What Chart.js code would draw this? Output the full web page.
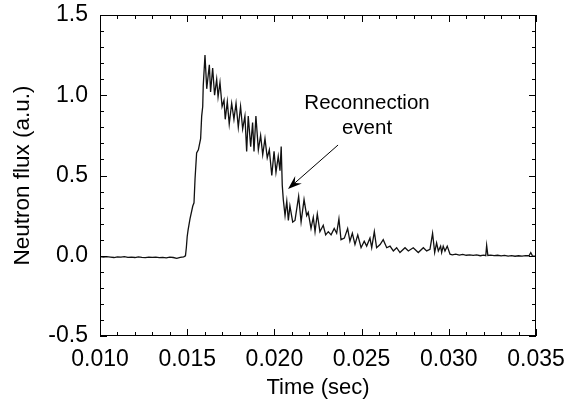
<!DOCTYPE html>
<html>
<head>
<meta charset="utf-8">
<script src="https://cdn.jsdelivr.net/npm/chart.js@4.4.0/dist/chart.umd.min.js"></script>
<style>
  html, body { margin: 0; padding: 0; background: #fff; }
</style>
</head>
<body>
<canvas id="fluxChart" width="564" height="407"></canvas>
<script>
// Time (sec) and neutron flux (a.u.)
const timeSec = [
  0.0100, 0.0102, 0.0104, 0.0106, 0.0108, 0.0110, 0.0112, 0.0114, 0.0116, 0.0118,
  0.0120, 0.0122, 0.0124, 0.0126, 0.0128, 0.0130, 0.0132, 0.0134, 0.0136, 0.0138,
  0.0140, 0.0142, 0.0144, 0.0146, 0.0148,
  0.01490, 0.01495, 0.01500, 0.01505, 0.01516, 0.01532, 0.01539, 0.01545, 0.01554, 0.01564,
  0.01577, 0.01583, 0.01589, 0.01592, 0.01602, 0.01612, 0.01627, 0.01634, 0.01646, 0.01657,
  0.01669, 0.01677, 0.01688, 0.01700, 0.01711, 0.01718, 0.01730, 0.01741, 0.01755, 0.01768,
  0.01780, 0.01793, 0.01806, 0.01818, 0.01831, 0.01841, 0.01850, 0.01864, 0.01875, 0.01883,
  0.01894, 0.01908, 0.01921, 0.01933, 0.01946, 0.01959, 0.01971, 0.01985, 0.01998, 0.02009,
  0.02022, 0.02032, 0.02039, 0.02045, 0.02051, 0.02061, 0.02071, 0.02080, 0.02089, 0.02105,
  0.02118, 0.02139, 0.02153, 0.02170, 0.02185, 0.02194, 0.02210, 0.02223, 0.02233, 0.02246,
  0.02261, 0.02280, 0.02294, 0.02309, 0.02325, 0.02343, 0.02357, 0.02370, 0.02382, 0.02401,
  0.02420, 0.02433, 0.02447, 0.02462, 0.02478, 0.02497, 0.02515, 0.02529, 0.02548, 0.02558,
  0.02573, 0.02586, 0.02606, 0.02624, 0.02644, 0.02663, 0.02682, 0.02701, 0.02720, 0.02749,
  0.02768, 0.02796, 0.02825, 0.02854, 0.02873, 0.02892, 0.02907, 0.02919, 0.02930, 0.02940,
  0.02953, 0.02959, 0.02968, 0.02978, 0.02991, 0.03007,
  0.0302, 0.0304, 0.0306, 0.0308, 0.0310, 0.0312, 0.0314, 0.0316, 0.0318, 0.0320,
  0.03212, 0.03217, 0.03224, 0.0324, 0.0326, 0.0328, 0.0330, 0.0332, 0.0334, 0.0336,
  0.0338, 0.0340, 0.0342, 0.0344, 0.0346, 0.03470, 0.0348, 0.0350
];
const neutronFlux = [
  -0.005, -0.009, -0.006, -0.008, -0.011, -0.007, -0.009, -0.006, -0.010, -0.008,
  -0.011, -0.007, -0.010, -0.012, -0.008, -0.010, -0.009, -0.012, -0.010, -0.013,
  -0.009, -0.011, -0.016, -0.010, -0.007,
  0.00, 0.05, 0.12, 0.16, 0.23, 0.31, 0.33, 0.48, 0.64, 0.66,
  0.73, 0.87, 0.93, 1.06, 1.25, 1.04, 1.19, 1.02, 1.17, 1.00,
  1.10, 0.99, 1.08, 0.93, 0.97, 0.85, 0.96, 0.82, 0.95, 0.85,
  0.95, 0.80, 0.93, 0.79, 0.87, 0.65, 0.87, 0.68, 0.83, 0.65,
  0.87, 0.66, 0.75, 0.63, 0.73, 0.61, 0.66, 0.50, 0.65, 0.52,
  0.62, 0.53, 0.68, 0.44, 0.35, 0.25, 0.34, 0.22, 0.31, 0.21,
  0.22, 0.37, 0.21, 0.35, 0.25, 0.27, 0.17, 0.24, 0.15, 0.26,
  0.15, 0.19, 0.13, 0.15, 0.13, 0.17, 0.14, 0.23, 0.10, 0.11,
  0.17, 0.09, 0.14, 0.07, 0.13, 0.05, 0.09, 0.06, 0.11, 0.05,
  0.15, 0.05, 0.07, 0.10, 0.05, 0.06, 0.03, 0.05, 0.02, 0.05,
  0.03, 0.05, 0.02, 0.05, 0.03, 0.04, 0.14, 0.02, 0.08, 0.03,
  0.06, 0.02, 0.06, 0.03, 0.06, 0.01,
  0.006, 0.010, 0.004, 0.008, 0.003, 0.006, 0.002, 0.005, 0.000, 0.004,
  0.001, 0.065, 0.002, 0.004, 0.001, 0.003, -0.001, 0.002, -0.002, 0.001,
  -0.003, 0.000, -0.002, 0.001, 0.000, 0.020, -0.002, -0.003
];
const xTicks = [0.010, 0.015, 0.020, 0.025, 0.030, 0.035];
const yTicks = [-0.5, 0.0, 0.5, 1.0, 1.5];

const fontFamily = '"Liberation Sans", Arial, Helvetica, sans-serif';

// Frame, inward ticks on all four sides and the arrow annotation
const framePlugin = {
    id: 'frame',
    afterDraw(chart) {
        const ctx = chart.ctx;
        const area = chart.chartArea;
        const xs = chart.scales.x;
        const ys = chart.scales.y;
        ctx.save();
        ctx.strokeStyle = '#000';
        ctx.lineWidth = 1;
        ctx.strokeRect(area.left + 0.5, area.top + 0.5, area.right - area.left - 1, area.bottom - area.top - 1);

        ctx.beginPath();
        for (let i = 0; i <= 25; i++) {
            const v = 0.010 + i * 0.001;
            const px = Math.round(xs.getPixelForValue(v)) + 0.5;
            const len = i % 5 === 0 ? 7 : 4;
            ctx.moveTo(px, area.bottom);
            ctx.lineTo(px, area.bottom - len);
            ctx.moveTo(px, area.top);
            ctx.lineTo(px, area.top + len);
        }
        for (let i = 0; i <= 20; i++) {
            const v = -0.5 + i * 0.1;
            const py = Math.round(ys.getPixelForValue(v)) + 0.5;
            const len = i % 5 === 0 ? 7 : 4;
            ctx.moveTo(area.left, py);
            ctx.lineTo(area.left + len, py);
            ctx.moveTo(area.right, py);
            ctx.lineTo(area.right - len, py);
        }
        ctx.stroke();

        // annotation
        ctx.fillStyle = '#000';
        ctx.font = '20.5px ' + fontFamily;
        ctx.textAlign = 'center';
        ctx.textBaseline = 'alphabetic';
        const tx = xs.getPixelForValue(0.02531);
        ctx.fillText('Reconnection', tx, ys.getPixelForValue(0.913));
        ctx.fillText('event', tx, ys.getPixelForValue(0.758));

        const x0 = xs.getPixelForValue(0.02365), y0 = ys.getPixelForValue(0.69);
        const x1 = xs.getPixelForValue(0.02078), y1 = ys.getPixelForValue(0.416);
        const ang = Math.atan2(y1 - y0, x1 - x0);
        ctx.beginPath();
        ctx.moveTo(x0, y0);
        ctx.lineTo(x1 - 8 * Math.cos(ang), y1 - 8 * Math.sin(ang));
        ctx.stroke();
        const back = 14, half = 5, notch = 9;
        const bx = x1 - back * Math.cos(ang), by = y1 - back * Math.sin(ang);
        const nx = x1 - notch * Math.cos(ang), ny = y1 - notch * Math.sin(ang);
        ctx.beginPath();
        ctx.moveTo(x1, y1);
        ctx.lineTo(bx - half * Math.sin(ang), by + half * Math.cos(ang));
        ctx.lineTo(nx, ny);
        ctx.lineTo(bx + half * Math.sin(ang), by - half * Math.cos(ang));
        ctx.closePath();
        ctx.fill();
        ctx.restore();
    }
};

const ctx = document.getElementById('fluxChart').getContext('2d');
new Chart(ctx, {
    type: 'line',
    data: {
        datasets: [{
            data: timeSec.map((t, i) => ({ x: t, y: neutronFlux[i] })),
            borderColor: '#111',
            borderWidth: 1.3,
            pointRadius: 0,
            tension: 0,
            fill: false
        }]
    },
    options: {
        responsive: false,
        animation: false,
        layout: { padding: { top: 15, right: 28, left: 0, bottom: 0 } },
        plugins: {
            legend: { display: false },
            tooltip: { enabled: false }
        },
        scales: {
            x: {
                type: 'linear',
                min: 0.010,
                max: 0.035,
                afterBuildTicks: s => { s.ticks = xTicks.map(v => ({ value: v })); },
                afterFit: s => { s.height = 71; s.paddingLeft = 0; s.paddingRight = 0; },
                grid: { display: false, drawTicks: false },
                border: { display: false },
                ticks: {
                    color: '#000',
                    font: { family: fontFamily, size: 23 },
                    padding: 10,
                    maxRotation: 0,
                    autoSkip: false,
                    callback: v => v.toFixed(3)
                },
                title: {
                    display: true,
                    text: 'Time (sec)',
                    color: '#000',
                    font: { family: fontFamily, size: 22 },
                    padding: { top: 0, bottom: 6 }
                }
            },
            y: {
                min: -0.5,
                max: 1.5,
                afterBuildTicks: s => { s.ticks = yTicks.map(v => ({ value: v })); },
                afterFit: s => { s.width = 100; s.paddingTop = 0; s.paddingBottom = 0; },
                grid: { display: false, drawTicks: false },
                border: { display: false },
                ticks: {
                    color: '#000',
                    font: { family: fontFamily, size: 23 },
                    padding: 12,
                    callback: v => v.toFixed(1)
                },
                title: {
                    display: true,
                    text: 'Neutron flux (a.u.)',
                    color: '#000',
                    font: { family: fontFamily, size: 22.5 },
                    padding: { top: 9, bottom: 0 }
                }
            }
        }
    },
    plugins: [framePlugin]
});
</script>
</body>
</html>
